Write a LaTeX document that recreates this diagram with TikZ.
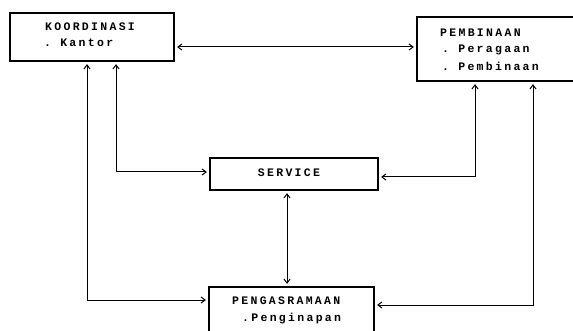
\documentclass[tikz,border=0pt]{standalone}
\usepackage{fontspec}
\setmonofont{Liberation Mono}[LetterSpace=20]
\usetikzlibrary{arrows.meta}
\begin{document}
\begin{tikzpicture}[x=1pt,y=-1pt,
  box/.style={draw, line width=1.3pt, rectangle, inner sep=0pt},
  lbl/.style={font=\ttfamily\bfseries\fontsize{11.5}{13}\selectfont, inner sep=0pt, anchor=west},
  link/.style={line width=1pt, shorten <=2.5pt, shorten >=2.5pt,
    {Straight Barb[length=4pt,width=6pt]}-{Straight Barb[length=4pt,width=6pt]}}]
\useasboundingbox (0,0) rectangle (573,331);
\clip (0,0) rectangle (573,331);
% boxes
\node[box, minimum width=164pt, minimum height=48pt] (K) at (92,37) {};
\node[box, minimum width=183pt, minimum height=64pt] (P) at (508.5,49) {};
\node[box, minimum width=168pt, minimum height=32pt] (S) at (294,174) {};
\node[box, minimum width=165pt, minimum height=58pt] (G) at (291.5,316) {};
% texts
\node[lbl] (kt1) at (45,27) {KOORDINASI};
\node[lbl] (kt2) at (44,43) {. Kantor};
\node[lbl] (pt1) at (440,33) {PEMBINAAN};
\node[lbl] (pt2) at (442,50) {. Peragaan};
\node[lbl] (pt3) at (442,66) {. Pembinaan};
\node[lbl, anchor=center] (st) at (289,173) {SERVICE};
\node[lbl] (gt1) at (232,301) {PENGASRAMAAN};
\node[lbl] (gt2) at (242,319) {.Penginapan};
% connectors
\coordinate (d) at (0,47);
\draw[link] (K.east |- d) -- (P.west |- d);
\coordinate (a1) at (87,300);
\draw[link] (K.south -| a1) |- (G.west |- a1);
\coordinate (a2) at (116,172);
\draw[link] (K.south -| a2) |- (S.west |- a2);
\coordinate (b1) at (475,177);
\draw[link] (P.south -| b1) |- (S.east |- b1);
\coordinate (b2) at (533,305);
\draw[link] (P.south -| b2) |- (G.east |- b2);
\coordinate (c) at (287,0);
\draw[link] (S.south -| c) -- (G.north -| c);
\end{tikzpicture}
\end{document}
